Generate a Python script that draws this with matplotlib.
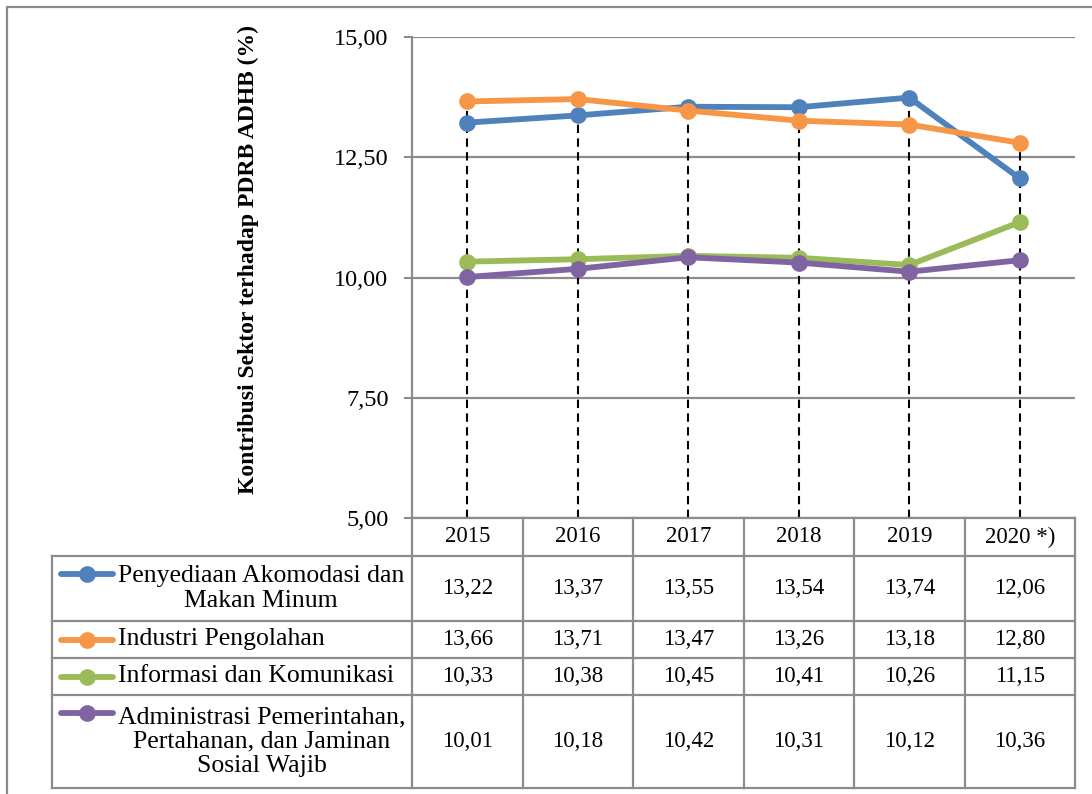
import matplotlib
matplotlib.use("Agg")
import matplotlib.pyplot as plt

W, H = 1092, 794

YEARS = ["2015", "2016", "2017", "2018", "2019", "2020 *)"]
SECTORS = [
    "Penyediaan Akomodasi dan\nMakan Minum",
    "Industri Pengolahan",
    "Informasi dan Komunikasi",
    "Administrasi Pemerintahan,\nPertahanan, dan Jaminan\nSosial Wajib",
]
akomodasi = [13.22, 13.37, 13.55, 13.54, 13.74, 12.06]
industri = [13.66, 13.71, 13.47, 13.26, 13.18, 12.80]
infokom = [10.33, 10.38, 10.45, 10.41, 10.26, 11.15]
adminpem = [10.01, 10.18, 10.42, 10.31, 10.12, 10.36]
SERIES = [akomodasi, industri, infokom, adminpem]
COLORS = ["#4F81BD", "#F79646", "#9BBB59", "#8064A2"]
YTICKS = [5.0, 7.5, 10.0, 12.5, 15.0]

GRID = "#8c8c8c"
FONT = "Liberation Serif"
plt.rcParams["font.family"] = [FONT, "DejaVu Serif"]

# plot area in pixels
X0, X1, Y0, Y1 = 412, 1075, 37, 518
CW = (X1 - X0) / len(YEARS)
# table rows (pixel y of row boundaries) and legend column
ROWS = [556, 621, 658, 695, 788]
TL = 52

fig = plt.figure(figsize=(W / 100, H / 100), dpi=100)

# overlay in pixel coordinates for frame + table
tab = fig.add_axes([0, 0, 1, 1])
tab.set_xlim(0, W)
tab.set_ylim(H, 0)
tab.axis("off")
tab.patch.set_alpha(0)

ax = fig.add_axes([X0 / W, 1 - Y1 / H, (X1 - X0) / W, (Y1 - Y0) / H])
ax.patch.set_alpha(0)
x = list(range(len(YEARS)))
ax.set_xlim(-0.5, len(YEARS) - 0.5)
ax.set_ylim(YTICKS[0], YTICKS[-1])
ax.set_yticks(YTICKS)
ax.set_yticklabels([f"{v:.2f}".replace(".", ",") for v in YTICKS], fontsize=17.5)
ax.set_xticks([])
ax.tick_params(axis="y", length=6, width=1.5, color=GRID, pad=11)
ax.yaxis.grid(True, color=GRID, lw=1.6)
ax.set_axisbelow(True)
for s in ["top", "right"]:
    ax.spines[s].set_visible(False)
for s in ["left", "bottom"]:
    ax.spines[s].set_color(GRID)
    ax.spines[s].set_linewidth(1.6)

# drop lines from the highest point of each year
tops = [max(s[i] for s in SERIES) for i in x]
ax.vlines(x, YTICKS[0], tops, colors="black", linestyles=(0, (4, 2.6)), lw=1.5, zorder=2)

for vals, c in zip(SERIES, COLORS):
    ax.plot(x, vals, color=c, lw=4.2, marker="o", ms=11, zorder=3,
            solid_capstyle="round", solid_joinstyle="round")

fig.text(248 / W, 1 - 260 / H, "Kontribusi Sektor terhadap PDRB ADHB (%)",
         rotation=90, ha="center", va="center", fontsize=17, fontweight="bold")

# outer frame
tab.plot([7, 7, W], [H, 7, 7], color=GRID, lw=1.6, solid_capstyle="butt")

# table grid
for y in ROWS:
    tab.plot([TL, X1], [y, y], color=GRID, lw=1.6)
tab.plot([TL, TL], [ROWS[0], ROWS[-1]], color=GRID, lw=1.6)
for k in range(len(YEARS) + 1):
    xx = X0 + k * CW
    tab.plot([xx, xx], [Y1, ROWS[-1]], color=GRID, lw=1.6)

# header
for k, yr in enumerate(YEARS):
    tab.text(X0 + (k + 0.5) * CW, (Y1 + ROWS[0]) / 2, yr, ha="center", va="center",
             fontsize=16.5)

# rows
for r, (name, vals, c) in enumerate(zip(SECTORS, SERIES, COLORS)):
    yc = (ROWS[r] + ROWS[r + 1]) / 2
    nl = name.count("\n") + 1
    ky = yc - (nl - 1) / 2 * 29
    tab.plot([61, 113], [ky, ky], color=c, lw=4.2, solid_capstyle="round")
    tab.plot([87], [ky], marker="o", ms=11, color=c)
    tab.text(118, yc, name, ha="left", va="center", multialignment="center",
             fontsize=18.5, linespacing=1.12)
    for k, v in enumerate(vals):
        tab.text(X0 + (k + 0.5) * CW, yc, f"{v:.2f}".replace(".", ","),
                 ha="center", va="center", fontsize=16.5)

fig.savefig("out.png", dpi=100)
